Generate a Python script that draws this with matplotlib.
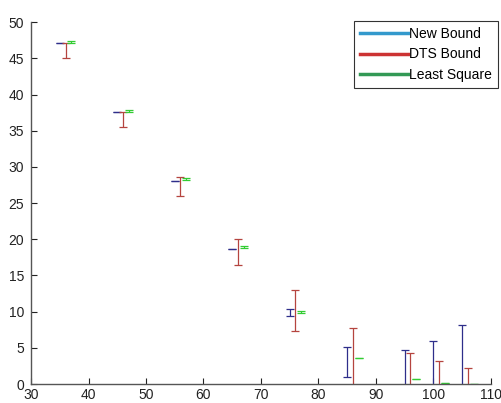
import matplotlib
matplotlib.use("Agg")
import matplotlib.pyplot as plt
from matplotlib.lines import Line2D
import numpy as np

plt.rcParams['font.family'] = ['Liberation Sans', 'DejaVu Sans']

# New Bound (blue)
x_new = [35, 45, 55, 65, 75, 85, 95, 100, 105]
new_lo = [47.1, 37.6, 28.1, 18.7, 9.37, 0.92, -1.5, -1.5, -1.5]
new_hi = [47.1, 37.6, 28.1, 18.7, 10.33, 5.14, 4.68, 6.0, 8.13]

# DTS Bound (red)
x_dts = [36, 46, 56, 66, 76, 86, 96, 101, 106]
dts_lo = [45.0, 35.5, 26.0, 16.5, 7.35, -1.5, -1.5, -1.5, -1.5]
dts_hi = [47.1, 37.6, 28.55, 20.07, 13.04, 7.76, 4.3, 3.17, 2.25]

# Least Square (green)
x_ls = [37, 47, 57, 67, 77, 87, 97, 102, 107]
ls_val = [47.3, 37.7, 28.3, 18.9, 9.96, 3.63, 0.69, 0.18, 0.05]
ls_err = [0.12, 0.12, 0.12, 0.12, 0.12, 0.0, 0.0, 0.0, 0.0]

fig = plt.figure(figsize=(5.02, 4.03), dpi=100)
ax = fig.add_axes([0.0618, 0.047, 0.916, 0.898])

cap = 2.9
for xs, lo, hi, col in [(x_new, new_lo, new_hi, "#2e2e8a"),
                        (x_dts, dts_lo, dts_hi, "#b5443f")]:
    lo = np.array(lo)
    hi = np.array(hi)
    mid = (lo + hi) / 2
    err = (hi - lo) / 2
    ax.errorbar(xs, mid, yerr=err, fmt="none", ecolor=col, elinewidth=0.9,
                capsize=cap, capthick=0.9)

ax.errorbar(x_ls, ls_val, yerr=ls_err, fmt="none", ecolor="#33cc33",
            elinewidth=0.9, capsize=cap, capthick=0.9)

ax.set_xlim(30, 110)
ax.set_ylim(0, 50)
ax.set_xticks(range(30, 111, 10))
ax.set_yticks(range(0, 51, 5))
ax.tick_params(direction="in", length=4, width=0.8, labelsize=10,
               colors="#222222")
ax.tick_params(axis="x", pad=3)
ax.tick_params(axis="y", pad=5)
for s in ["top", "right"]:
    ax.spines[s].set_visible(False)
for s in ["left", "bottom"]:
    ax.spines[s].set_color("#555555")
    ax.spines[s].set_linewidth(1.0)

handles = [Line2D([], [], color="#3399cc", lw=2.5),
           Line2D([], [], color="#cc3333", lw=2.5),
           Line2D([], [], color="#339955", lw=2.5)]
leg = fig.legend(handles, ["New Bound", "DTS Bound", "Least Square"],
                 loc="upper right", bbox_to_anchor=(0.992, 0.948),
                 fontsize=10, frameon=True, fancybox=False,
                 handlelength=3.45, handletextpad=0.05, borderpad=0.45,
                 labelspacing=0.45, borderaxespad=0)
leg.get_frame().set_edgecolor("#000000")
leg.get_frame().set_linewidth(0.8)

fig.savefig("out.png", dpi=100)
